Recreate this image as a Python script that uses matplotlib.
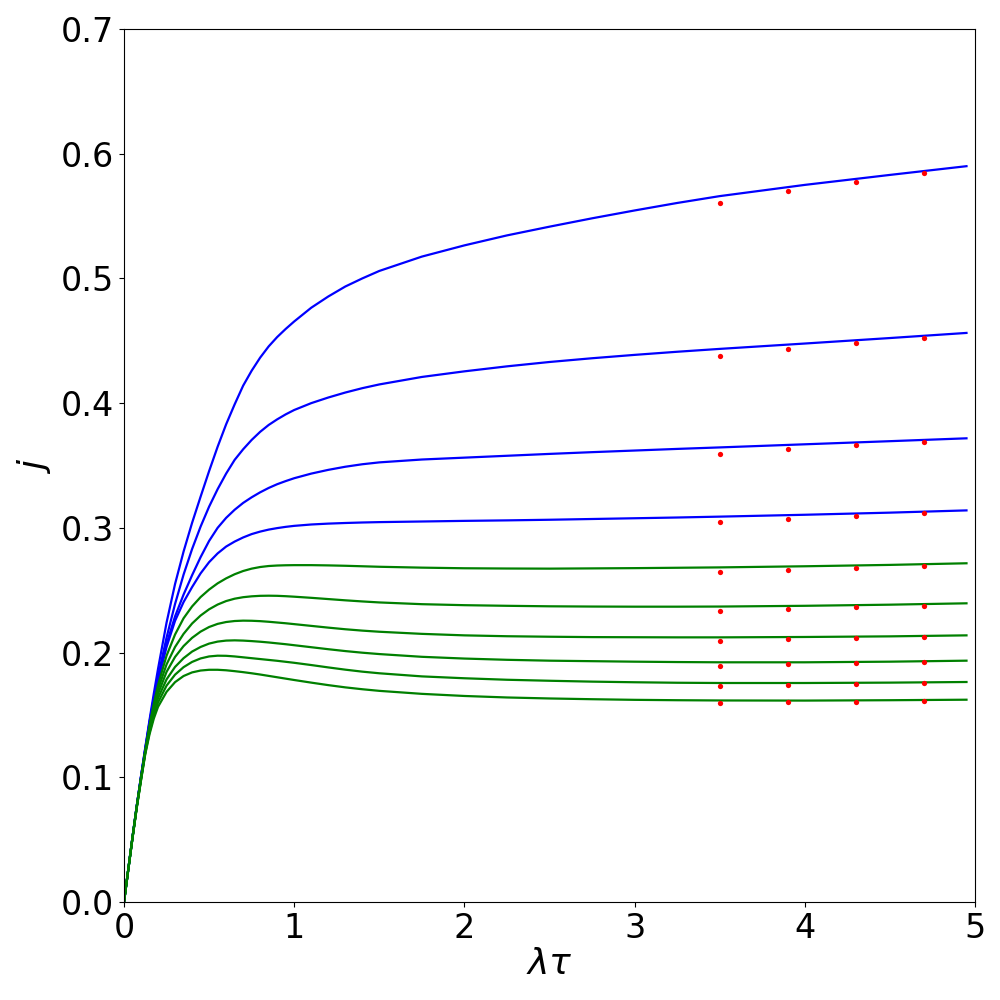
import matplotlib
matplotlib.use("Agg")
import matplotlib.pyplot as plt

# sample points along lambda*tau
lt = [0, 0.025, 0.05, 0.075, 0.1, 0.125, 0.15, 0.175, 0.2, 0.25, 0.3, 0.35, 0.4, 0.45,
      0.5, 0.55, 0.6, 0.65, 0.7, 0.75, 0.8, 0.85, 0.9, 0.95, 1.0, 1.1, 1.2, 1.3, 1.4,
      1.5, 1.75, 2.0, 2.25, 2.5, 2.75, 3.0, 3.25, 3.5, 4.0, 4.5, 4.95]

# blue curves (top to bottom)
j1 = [0, 0.026, 0.052, 0.077, 0.101, 0.124, 0.146, 0.167, 0.187, 0.224, 0.255, 0.281,
      0.304, 0.325, 0.3455, 0.365, 0.383, 0.399, 0.414, 0.426, 0.4365, 0.4455, 0.453,
      0.4595, 0.4655, 0.4765, 0.4855, 0.4935, 0.500, 0.506, 0.5175, 0.5265, 0.5345,
      0.5415, 0.5482, 0.5545, 0.5605, 0.566, 0.575, 0.583, 0.590]
j2 = [0, 0.026, 0.052, 0.077, 0.1005, 0.123, 0.1445, 0.1635, 0.181, 0.212, 0.239, 0.2625,
      0.283, 0.301, 0.317, 0.331, 0.3435, 0.3545, 0.363, 0.3705, 0.377, 0.3825, 0.387,
      0.391, 0.3945, 0.400, 0.4045, 0.4085, 0.412, 0.415, 0.421, 0.4255, 0.4295, 0.433,
      0.436, 0.4387, 0.4412, 0.4435, 0.4478, 0.4522, 0.4563]
j3 = [0, 0.026, 0.052, 0.077, 0.1005, 0.1225, 0.1435, 0.1625, 0.179, 0.207, 0.229, 0.2465,
      0.262, 0.2765, 0.2895, 0.300, 0.308, 0.3145, 0.320, 0.3245, 0.3285, 0.332, 0.335,
      0.3375, 0.3398, 0.3435, 0.3465, 0.349, 0.351, 0.3525, 0.3548, 0.3563, 0.3578, 0.3593,
      0.3607, 0.362, 0.3633, 0.3645, 0.367, 0.3695, 0.3718]
j4 = [0, 0.026, 0.052, 0.077, 0.100, 0.122, 0.1425, 0.161, 0.1775, 0.2045, 0.2255, 0.2405,
      0.2525, 0.2635, 0.2725, 0.2795, 0.285, 0.289, 0.2923, 0.295, 0.297, 0.2986, 0.2998,
      0.3008, 0.3016, 0.3027, 0.3034, 0.3039, 0.3043, 0.3046, 0.3051, 0.3056, 0.306, 0.3065,
      0.3071, 0.3077, 0.3083, 0.309, 0.3105, 0.3122, 0.314]
# green curves (top to bottom)
j5 = [0, 0.026, 0.052, 0.077, 0.0995, 0.1215, 0.1415, 0.159, 0.174, 0.1975, 0.2145, 0.2275,
      0.237, 0.2445, 0.2505, 0.2555, 0.2595, 0.2628, 0.2654, 0.2673, 0.2686, 0.2694, 0.2698,
      0.270, 0.2701, 0.2701, 0.2699, 0.2696, 0.2692, 0.2688, 0.2681, 0.2676, 0.2674, 0.2673,
      0.2675, 0.2677, 0.268, 0.2683, 0.2692, 0.2703, 0.2716]
j6 = [0, 0.026, 0.052, 0.0765, 0.0995, 0.121, 0.1405, 0.157, 0.1705, 0.1905, 0.2045, 0.215,
      0.2233, 0.2297, 0.2347, 0.2385, 0.2413, 0.2432, 0.2444, 0.2451, 0.2455, 0.2456, 0.2455,
      0.2452, 0.2448, 0.2439, 0.2429, 0.2419, 0.241, 0.2402, 0.2388, 0.238, 0.2375, 0.2371,
      0.2369, 0.2368, 0.2368, 0.2369, 0.2375, 0.2384, 0.2395]
j7 = [0, 0.026, 0.0515, 0.0765, 0.099, 0.1205, 0.139, 0.1545, 0.167, 0.1845, 0.1965, 0.2052,
      0.2118, 0.2168, 0.2205, 0.223, 0.2245, 0.2253, 0.2256, 0.2255, 0.2252, 0.2247, 0.2241,
      0.2235, 0.2228, 0.2214, 0.220, 0.2187, 0.2176, 0.2167, 0.215, 0.2138, 0.2131, 0.2127,
      0.2124, 0.2123, 0.2122, 0.2122, 0.2125, 0.213, 0.2138]
j8 = [0, 0.026, 0.0515, 0.076, 0.0985, 0.120, 0.1375, 0.152, 0.1635, 0.1785, 0.1885, 0.1955,
      0.2008, 0.2045, 0.2072, 0.2088, 0.2096, 0.2098, 0.2096, 0.2092, 0.2087, 0.2081, 0.2074,
      0.2067, 0.2059, 0.2043, 0.2027, 0.2012, 0.1999, 0.1988, 0.1966, 0.1952, 0.1942, 0.1935,
      0.1931, 0.1927, 0.1924, 0.1922, 0.1922, 0.1927, 0.1935]
j9 = [0, 0.026, 0.0515, 0.076, 0.098, 0.1195, 0.136, 0.1495, 0.160, 0.1735, 0.1823, 0.1883,
      0.1925, 0.1953, 0.1969, 0.1975, 0.1974, 0.1969, 0.1962, 0.1955, 0.1948, 0.1941, 0.1934,
      0.1926, 0.1918, 0.190, 0.1881, 0.1863, 0.1847, 0.1834, 0.1809, 0.1794, 0.1782, 0.1774,
      0.1767, 0.1762, 0.1758, 0.1756, 0.1756, 0.1759, 0.1764]
j10 = [0, 0.0255, 0.051, 0.0755, 0.0975, 0.1185, 0.1345, 0.147, 0.1565, 0.1685, 0.1763,
       0.1812, 0.1841, 0.1856, 0.1862, 0.1862, 0.1858, 0.1851, 0.1843, 0.1834, 0.1824,
       0.1813, 0.1802, 0.1791, 0.178, 0.1759, 0.1739, 0.1721, 0.1706, 0.1693, 0.1669,
       0.1652, 0.164, 0.1632, 0.1626, 0.1621, 0.1618, 0.1616, 0.1615, 0.1618, 0.1622]

blue_curves = [j1, j2, j3, j4]
green_curves = [j5, j6, j7, j8, j9, j10]

# red markers
lt_pts = [3.5, 3.9, 4.3, 4.7]
pts = [
    [0.5603, 0.5700, 0.5772, 0.5844],
    [0.4376, 0.4432, 0.4480, 0.4520],
    [0.3590, 0.3630, 0.3662, 0.3686],
    [0.3045, 0.3069, 0.3093, 0.3117],
    [0.2643, 0.2659, 0.2675, 0.2691],
    [0.2331, 0.2347, 0.2363, 0.2371],
    [0.2090, 0.2106, 0.2114, 0.2122],
    [0.1890, 0.1906, 0.1914, 0.1922],
    [0.1729, 0.1737, 0.1745, 0.1753],
    [0.1593, 0.1601, 0.1601, 0.1609],
]

fig = plt.figure(figsize=(10, 10), dpi=100)
ax = fig.add_axes([0.124, 0.098, 0.851, 0.873])

for jj in blue_curves:
    ax.plot(lt, jj, "-", color="b", lw=1.6)
for jj in green_curves:
    ax.plot(lt, jj, "-", color="g", lw=1.6)
for pp in pts:
    ax.plot(lt_pts, pp, "o", color="r", ms=3.8, mec="none")

ax.set_xlim(0, 5)
ax.set_ylim(0, 0.7)
ax.set_xticks([0, 1, 2, 3, 4, 5])
ax.set_yticks([0, 0.1, 0.2, 0.3, 0.4, 0.5, 0.6, 0.7])
ax.tick_params(labelsize=24)
ax.set_xlabel(r"$\lambda\tau$", fontsize=26, labelpad=2)
ax.set_ylabel(r"$j$", fontsize=26, labelpad=6)

fig.savefig("out.png", dpi=100)
